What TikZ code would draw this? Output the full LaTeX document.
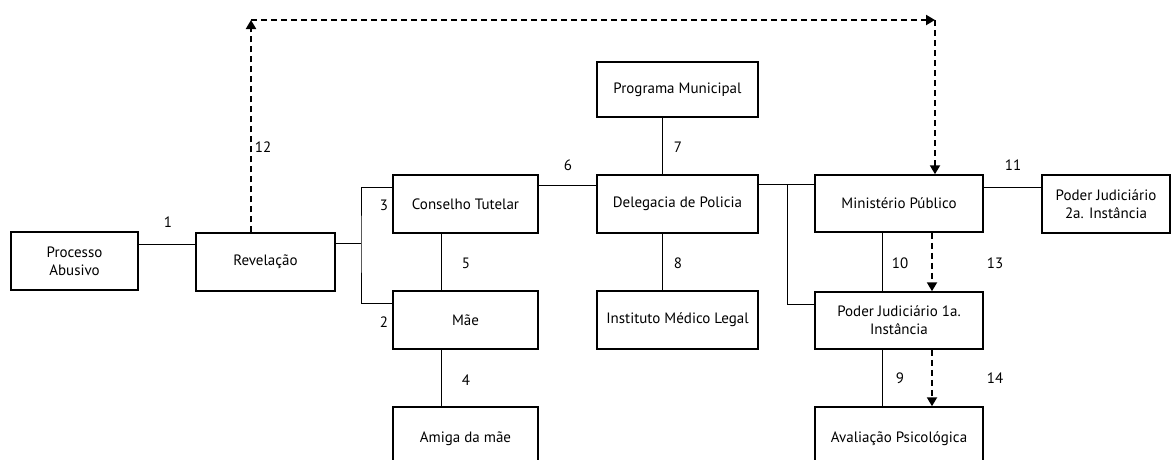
\documentclass[tikz,border=0pt]{standalone}
\usepackage{fontspec}
\setmainfont{PT Sans}
\usetikzlibrary{positioning,calc,arrows.meta}

\begin{document}
\begin{tikzpicture}[x=1pt, y=-1pt, on grid,
  caixa/.style={draw, line width=1.5pt, align=center, inner sep=0pt, font=\fontsize{15}{18}\selectfont},
  rotulo/.style={inner sep=0pt, font=\fontsize{15}{18}\selectfont},
  liga/.style={line width=0.8pt},
  tracejada/.style={line width=2pt, dash pattern=on 6pt off 4pt},
  ponta/.style={-{Triangle[length=9pt,width=10pt]}}]

  \useasboundingbox (0,0) rectangle (1171,459);
  \clip (0,0) rectangle (1171,459);

  % Boxes
  \node[caixa, minimum width=127pt, minimum height=58pt] (proc) at (74.5,261) {Processo\\Abusivo};
  \node[caixa, minimum width=139pt, minimum height=58pt] (rev) at (265.5,262) {Revelação};
  \node[caixa, minimum width=145pt, minimum height=58pt] (cons) at (465.5,204) {Conselho Tutelar};
  \node[caixa, minimum width=145pt, minimum height=58pt] (mae) [below=116pt of cons] {Mãe};
  \node[caixa, minimum width=145pt, minimum height=63pt] (amiga) [below=118.5pt of mae] {Amiga da mãe};
  \node[caixa, minimum width=161pt, minimum height=58pt] (deleg) at (677.5,204) {Delegacia de Policia};
  \node[caixa, minimum width=161pt, minimum height=55pt] (prog) [above=114.5pt of deleg] {Programa Municipal};
  \node[caixa, minimum width=161pt, minimum height=58pt] (iml) [below=116pt of deleg] {Instituto Médico Legal};
  \node[caixa, minimum width=168pt, minimum height=57pt] (mp) at (899,203.5) {Ministério Público};
  \node[caixa, minimum width=168pt, minimum height=57pt] (pj1) [below=117pt of mp] {Poder Judiciário 1a.\\Instância};
  \node[caixa, minimum width=168pt, minimum height=63pt] (aval) [below=118pt of pj1] {Avaliação Psicológica};
  \node[caixa, minimum width=128pt, minimum height=58pt] (pj2) at (1106,204) {Poder Judiciário\\2a. Instância};

  % Junctions
  \coordinate (jrev) at (361,243);
  \coordinate (jdel) at (787,184);
  \coordinate (c12a) at (251,20);
  \coordinate (c12b) at (935,20);

  % Connectors
  \draw[liga] ([yshift=17pt]proc.east) -- ([yshift=17pt]proc.east -| rev.west);
  \draw[liga] (rev.east |- jrev) -- (jrev);
  \draw[liga] ([yshift=17pt]cons.west) -| (jrev) |- ([yshift=17pt]mae.west);
  \draw[liga] ([xshift=-24pt]cons.south) -- ([xshift=-24pt]mae.north);
  \draw[liga] ([xshift=-24pt]mae.south) -- ([xshift=-24pt]amiga.north);
  \draw[liga] ([yshift=19pt]cons.east) -- ([yshift=19pt]deleg.west);
  \draw[liga] ([xshift=-15pt]prog.south) -- ([xshift=-15pt]deleg.north);
  \draw[liga] ([xshift=-15pt]deleg.south) -- ([xshift=-15pt]iml.north);
  \draw[liga] (deleg.east |- jdel) -- (jdel -| mp.west);
  \draw[liga] (jdel) |- ([yshift=16.5pt]pj1.west);
  \draw[liga] ([yshift=17pt]pj2.west -| mp.east) -- ([yshift=17pt]pj2.west);
  \draw[liga] ([xshift=-17pt]mp.south) -- ([xshift=-17pt]pj1.north);
  \draw[liga] ([xshift=-17pt]pj1.south) -- ([xshift=-17pt]aval.north);

  % Dashed arrows
  \draw[tracejada, ponta] ([xshift=-14.5pt]rev.north) -- (c12a);
  \draw[tracejada, ponta] (c12a) -- (c12b);
  \draw[tracejada, ponta] (c12b) -- ([xshift=36pt]mp.north);
  \draw[tracejada, ponta] ([xshift=33pt]mp.south) -- ([xshift=33pt]pj1.north);
  \draw[tracejada, ponta] ([xshift=33pt]pj1.south) -- ([xshift=33pt]aval.north);

  % Numbers
  \node[rotulo] (l1) at (168,222) {1};
  \node[rotulo] (l2) at (384,322) {2};
  \node[rotulo] (l3) at (384,205) {3};
  \node[rotulo] (l4) at (466,380) {4};
  \node[rotulo] (l5) at (466,263) {5};
  \node[rotulo] (l6) at (568,165) {6};
  \node[rotulo] (l7) at (678,147) {7};
  \node[rotulo] (l8) at (678,263) {8};
  \node[rotulo] (l9) at (900,378) {9};
  \node[rotulo] (l10) at (900,263) {10};
  \node[rotulo] (l11) at (1013,165) {11};
  \node[rotulo] (l12) at (263,147) {12};
  \node[rotulo] (l13) at (995,263) {13};
  \node[rotulo] (l14) at (995,378) {14};

\end{tikzpicture}
\end{document}
